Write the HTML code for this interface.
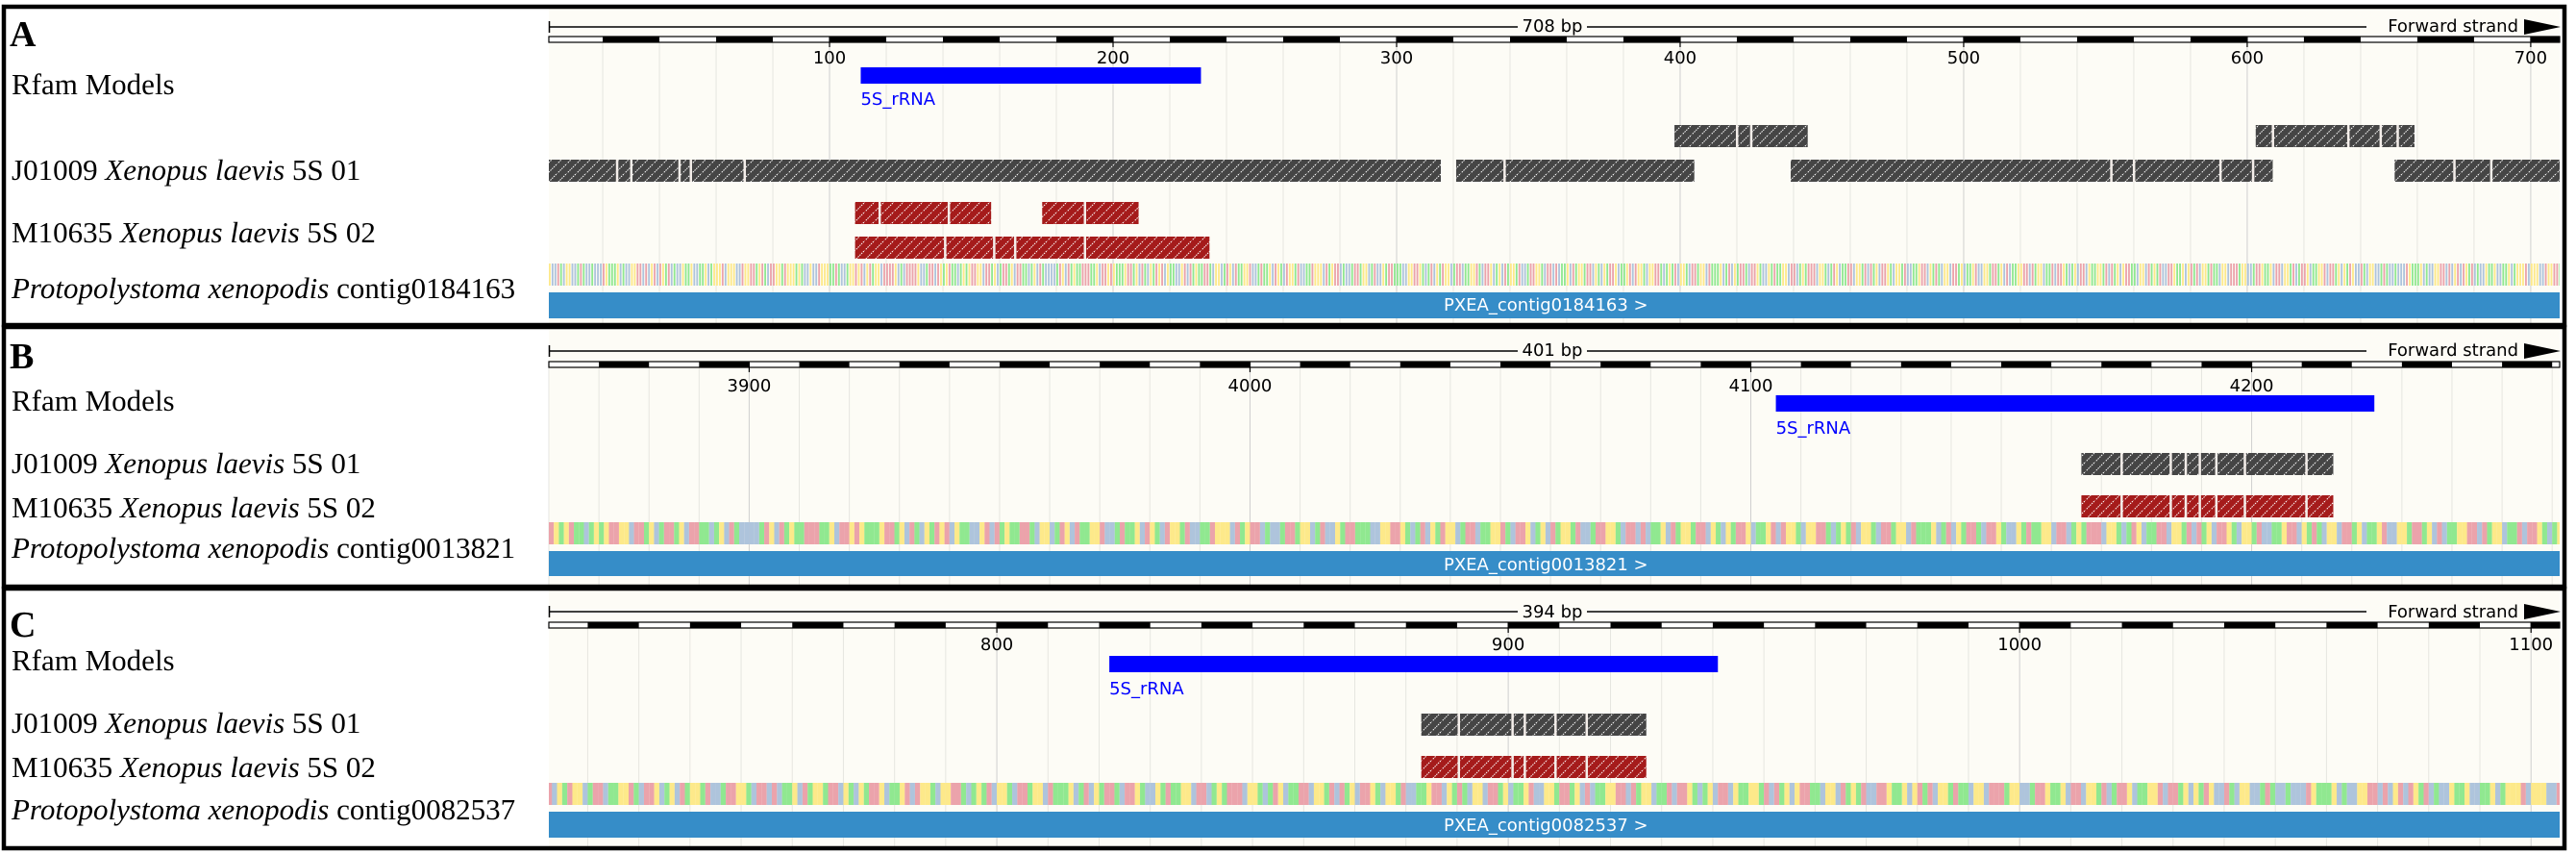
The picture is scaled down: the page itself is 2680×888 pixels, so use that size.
<!DOCTYPE html>
<html><head><meta charset="utf-8"><style>
html,body{margin:0;padding:0;background:#fff;}
svg{display:block;}
.lab{font-family:"Liberation Serif",serif;font-size:31px;fill:#000;}
.pl{font-family:"Liberation Serif",serif;font-size:38px;font-weight:bold;fill:#000;}
.tk{font-family:"DejaVu Sans","Liberation Sans",sans-serif;font-size:18px;}
</style></head><body>
<svg id="fig" xmlns="http://www.w3.org/2000/svg" width="2680" height="888" viewBox="0 0 2680 888">
<defs>
<pattern id="hGrey" patternUnits="userSpaceOnUse" width="10" height="10"><rect width="10" height="10" fill="#454545"/><path d="M-1,11 L11,-1" stroke="#fff" stroke-width="1" stroke-dasharray="1.5,1"/></pattern>
<pattern id="hRed" patternUnits="userSpaceOnUse" width="10" height="10"><rect width="10" height="10" fill="#a51b1b"/><path d="M-1,11 L11,-1" stroke="#fff" stroke-width="1" stroke-dasharray="1.5,1"/></pattern>
</defs>
</svg>
<script>
// ---- data ----
const panelNames = ["A","B","C"];
const domainStart = [1, 3860, 712.4];
const domainEnd = [710.2, 4261.5, 1105.6];
const lengthLabels = ["708 bp","401 bp","394 bp"];
const segStep = [20, 10, 10];
const tickStep = [100, 100, 100];
const contigNames = ["contig0184163","contig0013821","contig0082537"];
const rfamStart = [111, 4105, 822];
const rfamEnd = [231, 4224.5, 941];
const j01UpperA = [[398,445],[603,659]];
const j01UpperGapsA = [420,425,609,635.6,647,653];
const j01LowerA = [[1,315.6],[321,405],[439,609],[652,710.2]];
const j01LowerGapsA = [25,30,47,51,70,338,552,560,590.5,602,673,686];
const m10Row1A = [[109,157],[175,209]];
const m10Row1GapsA = [117.6,142,190];
const m10Row2A = [[109,234]];
const m10Row2GapsA = [140.7,158,165.4,190];
const j01B = [[4166,4216.3]];
const m10B = [[4166,4216.3]];
const gapsB = [4174,4183.8,4186.8,4189.6,4192.9,4198.6,4210.9];
const j01C = [[883,927]];
const m10C = [[883,927]];
const gapsC = [890.3,900.8,903.2,909.2,915.3];
const seqText = "GCCTACGGCCATACCACCCTGAAAGCACCGGTTCTCGTCTGATCACCGAAGCCAAGCAGGGTCGGGCCTGGTTAGTACTTGGATGGGAGACCGCCTGGGAATACCAGGTGTCGTAGGCTTTTGCACTTTTGCCATTCTGAGTAACAGAGTTGGCTTAGCATTAGCTTAACAGCTACCCCATGCTAGAATTTAAGCTTGTGAAAGTTAGCTACGATGTCGAACCGTCTAGAATTACGGCATGCTAAGGTCCATAAGCTGACTGGATCCAATGGGCTAGTTCACCATTAGGCATCCGATTAAACCGGTTGACATCGATGGCATTCAAGGTACTTGCAGCTAGGATCCATTGGACTTCTCAAGCTAGGATTCGACGATTGCAAGTCTGGACGGTTACAGATCGGACTTAGGCTAAAGCATCGATTACTTGACCGATAAGGCTTCAGATTTCGGACATGCAATTCGGATCTAGCTTGACGGATCCAAGTTCGATACGGCTTAGCAAGTCCGGATTAGCTCAAGGTTCTAGGCAATCTTGACAGCTTCGAAGGATCTAGCGTTAACGGCTAGATCCTTGAAGCGTATCGGATAACGGCTTTAGGCCATTGAAGCTTCGGATCATTGCAAGGTCTTAGCGAT";
// ---- layout (pixels) ----
const L = [
 {top:5,bot:340,ruler:28,barY:38,tickY:66,rulerTxt:33,rfY:70,rfLab:109,rows:[130,166,210,246],seq:274,seqH:23,ctg:304,ctgH:27,ctgTxt:323,
  labs:[48,98,187,252,310],whiteFirst:true},
 {top:338,bot:612,ruler:365,barY:376,tickY:407,rulerTxt:370,rfY:411,rfLab:451,rows:[471,515],seq:543,seqH:23,ctg:573,ctgH:26,ctgTxt:593,
  labs:[383,427,492,538,580],whiteFirst:true},
 {top:610,bot:884,ruler:636,barY:647,tickY:676,rulerTxt:642,rfY:682,rfLab:722,rows:[742,786],seq:814,seqH:23,ctg:844,ctgH:27,ctgTxt:864,
  labs:[662,697,762,808,852],whiteFirst:false}
];
const X0=571, X1=2663;
const NS="http://www.w3.org/2000/svg";
const svg=document.getElementById('fig');
function mk(tag,attrs,parent){const e=document.createElementNS(NS,tag);for(const k in attrs)e.setAttribute(k,attrs[k]);(parent||svg).appendChild(e);return e;}
const baseColor={A:"#90e890",C:"#aec4dc",G:"#fde98a",T:"#eba3ab"};

panelNames.forEach((pn,pi)=>{
  const lay=L[pi];
  const s0=domainStart[pi], s1=domainEnd[pi];
  const xs=p=>X0+(p-s0)/(s1-s0)*(X1-X0);
  const ppb=(X1-X0)/(s1-s0);
  const g=mk('g',{});
  
  
  const bg=mk('rect',{x:X0,y:lay.top,width:X1-X0,height:lay.bot-lay.top,fill:"#fdfcf6"},g);
  
  
  const first=Math.ceil(s0/segStep[pi])*segStep[pi];
  for(let p=first;p<=s1;p+=segStep[pi]){
    const major=(p%tickStep[pi]===0);
    const gl=mk('line',{x1:xs(p),x2:xs(p),y1:lay.barY+6,y2:lay.bot-2,stroke:major?"#cfcfcf":"#e6e6e0","stroke-width":1},g);
    
    
  }
  const rl=mk('line',{x1:X0,x2:X1-46,y1:lay.ruler,y2:lay.ruler,stroke:"#000","stroke-width":1.5},g);
  
  
  mk('line',{x1:X0+0.5,x2:X0+0.5,y1:lay.ruler-6,y2:lay.ruler+6,stroke:"#000","stroke-width":1.5},g);
  const midX=1615;
  mk('rect',{x:midX-36,y:lay.ruler-12,width:72,height:22,fill:"#fdfcf6"},g);
  const lt=mk('text',{x:midX,y:lay.rulerTxt,"text-anchor":"middle",class:"tk",style:"fill:#000"},g);
  lt.textContent=lengthLabels[pi];
  
  
  mk('rect',{x:2462,y:lay.ruler-12,width:160,height:22,fill:"#fdfcf6"},g);
  const fs=mk('text',{x:2620,y:lay.rulerTxt,"text-anchor":"end",class:"tk",style:"fill:#000"},g);
  fs.textContent="Forward strand";
  
  
  const ar=mk('path',{d:`M2626,${lay.ruler-8} L2664,${lay.ruler} L2626,${lay.ruler+8} Z`,fill:"#000"},g);
  
  
  const sb=mk('rect',{x:X0,y:lay.barY,width:X1-X0,height:6,fill:"#fff",stroke:"#000","stroke-width":1.2},g);
  
  
  const st=segStep[pi];
  for(let k=Math.floor(s0/st);k*st<s1;k++){
    const white=((k%2===0)===lay.whiteFirst);
    if(white) continue;
    const a=Math.max(xs(k*st),X0), b=Math.min(xs((k+1)*st),X1);
    const seg=mk('rect',{x:a,y:lay.barY,width:b-a,height:6,fill:"#000"},g);
    
    
  }
  for(let p=Math.ceil(s0/tickStep[pi])*tickStep[pi];p<=s1;p+=tickStep[pi]){
    mk('line',{x1:xs(p),x2:xs(p),y1:lay.barY,y2:lay.barY+11,stroke:"#000","stroke-width":1.2},g);
    const t=mk('text',{x:xs(p),y:lay.tickY,"text-anchor":"middle",class:"tk",style:"fill:#000"},g);
    t.textContent=String(p);
    
    
  }
  const rf=mk('rect',{x:xs(rfamStart[pi]),y:lay.rfY,width:xs(rfamEnd[pi])-xs(rfamStart[pi]),height:17,fill:"#0000ff"},g);
  
  
  const rt=mk('text',{x:xs(rfamStart[pi]),y:lay.rfLab,class:"tk",style:"fill:#0000ff"},g);
  rt.textContent="5S_rRNA";
  
  
  function drawRow(segs,gaps,y,pat,name){
    segs.forEach(sg=>{
      const a=Math.max(xs(sg[0]),X0), b=Math.min(xs(sg[1]),X1);
      const r=mk('rect',{x:a,y:y,width:b-a,height:23,fill:`url(#${pat})`},g);
      
      
    });
    gaps.forEach(gp=>{
      if(!segs.some(sg=>gp>sg[0]&&gp<sg[1]))return;
      const w=mk('rect',{x:xs(gp)-1,y:y,width:2.5,height:23,fill:"#f4eeea"},g);
      
      
    });
  }
  if(pi===0){
    drawRow(j01UpperA,j01UpperGapsA,lay.rows[0],"hGrey","j01009-alignment");
    drawRow(j01LowerA,j01LowerGapsA,lay.rows[1],"hGrey","j01009-alignment");
    drawRow(m10Row1A,m10Row1GapsA,lay.rows[2],"hRed","m10635-alignment");
    drawRow(m10Row2A,m10Row2GapsA,lay.rows[3],"hRed","m10635-alignment");
  } else if(pi===1){
    drawRow(j01B,gapsB,lay.rows[0],"hGrey","j01009-alignment");
    drawRow(m10B,gapsB,lay.rows[1],"hRed","m10635-alignment");
  } else {
    drawRow(j01C,gapsC,lay.rows[0],"hGrey","j01009-alignment");
    drawRow(m10C,gapsC,lay.rows[1],"hRed","m10635-alignment");
  }
  const off=[0,137,311][pi];
  const bw=ppb<4?ppb*0.62:ppb;
  for(let p=Math.floor(s0);p<s1;p++){
    const a=xs(p); if(a+bw<X0||a>X1)continue;
    const ch=seqText.charAt((p-Math.floor(s0)+off)%seqText.length);
    const r=mk('rect',{x:Math.max(a,X0),y:lay.seq,width:Math.min(bw,X1-a),height:lay.seqH,fill:baseColor[ch]},g);
    
    
  }
  const cb=mk('rect',{x:X0,y:lay.ctg,width:X1-X0,height:lay.ctgH,fill:"#368dc8"},g);
  
  
  const ct=mk('text',{x:1502,y:lay.ctgTxt,class:"tk",style:"fill:#ffffff"},g);
  ct.textContent="PXEA_"+contigNames[pi]+" >";
  
  
  const pl=mk('text',{x:10,y:lay.labs[0],class:"pl"},g);
  pl.textContent=pn;
  
  
  const r1=mk('text',{x:12,y:lay.labs[1],class:"lab"},g);
  r1.textContent="Rfam Models";
  
  
  const r2=mk('text',{x:12,y:lay.labs[2],class:"lab"},g);
  r2.innerHTML='J01009 <tspan font-style="italic">Xenopus laevis</tspan> 5S 01';
  
  
  const r3=mk('text',{x:12,y:lay.labs[3],class:"lab"},g);
  r3.innerHTML='M10635 <tspan font-style="italic">Xenopus laevis</tspan> 5S 02';
  
  
  const r4=mk('text',{x:12,y:lay.labs[4],class:"lab"},g);
  r4.innerHTML='<tspan font-style="italic">Protopolystoma xenopodis</tspan> '+contigNames[pi];
  
  
  const bd=mk('rect',{x:4,y:lay.top+2,width:2664,height:lay.bot-lay.top-4,fill:"none",stroke:"#000","stroke-width":4.5},g);
  
  
});
</script>
</body></html>
